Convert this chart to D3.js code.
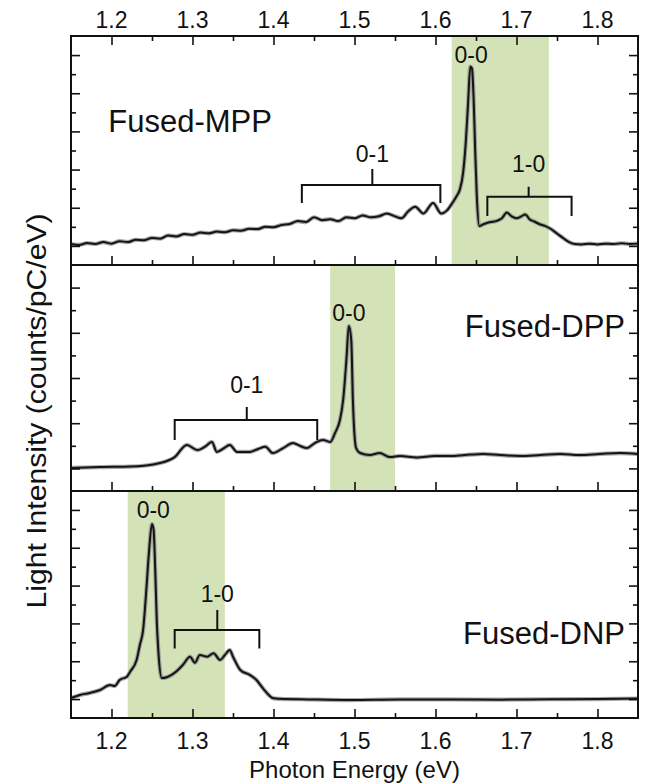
<!DOCTYPE html>
<html>
<head>
<meta charset="utf-8">
<script src="https://cdn.jsdelivr.net/npm/d3@7"></script>
<style>
  html, body { margin: 0; padding: 0; background: #fff; }
  svg { display: block; }
  text { font-family: "Liberation Sans", Arial, Helvetica, sans-serif; fill: #111; }
</style>
</head>
<body>
<svg id="chart" width="645" height="784"></svg>
<script>
// ---------------- DATA ----------------
const energyTicks = [1.2, 1.3, 1.4, 1.5, 1.6, 1.7, 1.8];
const energyDomain = [1.15, 1.85];

const panelNames = ["Fused-MPP", "Fused-DPP", "Fused-DNP"];
const panelYMax = [12, 10, 12];            // arbitrary units (counts/pC/eV)
const greenBands = [[1.62, 1.74], [1.47, 1.55], [1.22, 1.34]];

const mppE = [1.150,1.160,1.170,1.180,1.190,1.200,1.210,1.220,1.230,1.240,1.250,1.260,1.270,1.280,1.290,1.300,1.310,1.320,1.330,1.340,1.350,1.360,1.370,1.380,1.390,1.400,1.410,1.420,1.430,1.440,1.450,1.460,1.470,1.480,1.490,1.500,1.510,1.520,1.530,1.540,1.550,1.558,1.566,1.575,1.585,1.597,1.607,1.614,1.620,1.626,1.630,1.634,1.637,1.640,1.643,1.645,1.647,1.649,1.651,1.654,1.660,1.668,1.675,1.682,1.688,1.694,1.700,1.706,1.711,1.716,1.722,1.728,1.735,1.742,1.750,1.758,1.765,1.772,1.780,1.790,1.800,1.810,1.820,1.830,1.840,1.850];
const mppI = [1.10,1.05,1.15,1.10,1.20,1.12,1.25,1.20,1.32,1.30,1.42,1.38,1.55,1.50,1.62,1.58,1.70,1.66,1.75,1.72,1.82,1.80,1.90,1.88,2.00,1.98,2.10,2.15,2.30,2.25,2.50,2.35,2.40,2.30,2.50,2.45,2.60,2.50,2.55,2.70,2.55,2.45,2.80,3.05,2.70,3.25,2.70,2.85,3.20,3.60,3.95,4.80,6.20,8.30,10.40,10.30,8.80,6.00,3.60,2.05,2.15,2.25,2.30,2.45,2.75,2.55,2.45,2.55,2.65,2.40,2.28,2.15,2.05,1.90,1.65,1.40,1.20,1.10,1.08,1.12,1.08,1.12,1.10,1.14,1.10,1.12];

const dppE = [1.150,1.186,1.223,1.260,1.278,1.293,1.306,1.315,1.324,1.330,1.339,1.346,1.355,1.371,1.381,1.390,1.399,1.412,1.424,1.433,1.441,1.451,1.461,1.470,1.476,1.482,1.486,1.490,1.493,1.496,1.498,1.502,1.507,1.519,1.531,1.544,1.556,1.577,1.599,1.618,1.636,1.659,1.680,1.704,1.729,1.754,1.778,1.803,1.828,1.850];
const dppI = [1.02,1.06,1.08,1.24,1.50,2.04,1.81,1.95,2.17,1.73,1.90,2.04,1.73,1.73,1.86,1.96,1.68,1.90,2.12,1.99,1.90,2.12,2.26,2.17,2.57,3.14,4.03,5.80,7.30,6.68,4.03,1.90,1.68,1.59,1.68,1.50,1.55,1.48,1.55,1.55,1.59,1.64,1.59,1.55,1.59,1.64,1.59,1.64,1.68,1.64];

const dnpE = [1.150,1.161,1.173,1.186,1.198,1.204,1.210,1.219,1.223,1.231,1.235,1.239,1.243,1.246,1.250,1.252,1.254,1.256,1.258,1.262,1.269,1.276,1.282,1.288,1.297,1.303,1.309,1.318,1.326,1.334,1.340,1.346,1.350,1.359,1.371,1.379,1.387,1.400,1.414,1.433,1.494,1.556,1.618,1.680,1.740,1.800,1.850];
const dnpI = [1.06,1.22,1.32,1.48,1.74,1.69,2.01,2.18,2.45,3.07,3.86,4.65,6.77,8.62,10.25,9.94,7.82,5.02,3.44,2.11,2.17,2.33,2.54,2.80,3.24,2.92,3.33,3.24,3.42,3.07,3.33,3.59,3.24,2.54,2.27,2.01,1.57,1.04,1.00,0.99,0.95,0.98,0.98,0.97,0.99,1.00,1.03];

// annotations (data units): peak labels and brackets
const peakLabels = [
  [{text: "0-0", e: 1.644, v: 10.57}],
  [{text: "0-0", e: 1.493, v: 7.52}],
  [{text: "0-0", e: 1.2516, v: 10.55}]
];
const brackets = [
  [{text: "0-1", e0: 1.435, e1: 1.606, ec: 1.522, vh: 4.19, vEnd: 3.25, vTop: 5.03, vText: 5.4},
   {text: "1-0", e0: 1.664, e1: 1.768, ec: 1.715, vh: 3.58, vEnd: 2.57, vTop: 4.10, vText: 4.89}],
  [{text: "0-1", e0: 1.278, e1: 1.454, ec: 1.367, vh: 3.14, vEnd: 2.26, vTop: 3.72, vText: 4.34}],
  [{text: "1-0", e0: 1.278, e1: 1.3825, ec: 1.3306, vh: 4.65, vEnd: 3.68, vTop: 5.71, vText: 6.15}]
];

// ---------------- LAYOUT ----------------
const svg = d3.select("#chart");
const left = 71, right = 638;
const panelTops = [36, 265, 491];
const panelBottoms = [265, 491, 718];
const nameLabelPos = [
  {anchor: "start", e: 1.196, v: 6.95},
  {anchor: "end", e: 1.834, v: 6.8},
  {anchor: "end", e: 1.834, v: 3.9}
];

const x = d3.scaleLinear().domain(energyDomain).range([left, right]);
const majorTicks = energyTicks;
const minorTicks = d3.range(1.15, 1.851, 0.1).map(d => +d.toFixed(2)).filter(d => d > 1.151 && d < 1.849);

const green = "#d4e3b7";
const datasets = [[mppE, mppI], [dppE, dppI], [dnpE, dnpI]];

datasets.forEach((ds, i) => {
  const top = panelTops[i], bottom = panelBottoms[i];
  const y = d3.scaleLinear().domain([0, panelYMax[i]]).range([bottom, top]);
  const g = svg.append("g");

  // green band
  g.append("rect")
    .attr("x", x(greenBands[i][0]))
    .attr("y", top)
    .attr("width", x(greenBands[i][1]) - x(greenBands[i][0]))
    .attr("height", bottom - top)
    .attr("fill", green);

  const pts = ds[0].map((e, k) => [e, ds[1][k]]);
  const line = d3.line().x(d => x(d[0])).y(d => y(d[1])).curve(d3.curveMonotoneX);

  // gray raw-data halo
  g.append("path").datum(pts).attr("d", line)
    .attr("fill", "none").attr("stroke", "#8a8a8a").attr("stroke-width", 4.2)
    .attr("stroke-linejoin", "round").attr("opacity", 0.75);
  // smoothed black line
  g.append("path").datum(pts).attr("d", line)
    .attr("fill", "none").attr("stroke", "#141414").attr("stroke-width", 2)
    .attr("stroke-linejoin", "round");

  // y ticks (left, inward) alternating long/short, and right side
  const yt = d3.range(1, panelYMax[i]);
  g.append("g").attr("transform", `translate(${left},0)`)
    .call(d3.axisRight(y).tickValues(yt).tickSize(1).tickFormat(""))
    .call(a => a.select(".domain").remove())
    .call(a => a.selectAll(".tick line").attr("x2", d => d % 2 === 1 ? 9 : 5).attr("stroke", "#111").attr("stroke-width", 1.6));
  g.append("g").attr("transform", `translate(${right},0)`)
    .call(d3.axisLeft(y).tickValues(yt).tickSize(1).tickFormat(""))
    .call(a => a.select(".domain").remove())
    .call(a => a.selectAll(".tick line").attr("x2", d => d % 2 === 1 ? -9 : -5).attr("stroke", "#111").attr("stroke-width", 1.6));

  // bottom ticks (inward, upward)
  g.append("g").attr("transform", `translate(0,${bottom})`)
    .call(d3.axisTop(x).tickValues(majorTicks).tickSize(9).tickFormat(""))
    .call(a => a.select(".domain").remove())
    .call(a => a.selectAll(".tick line").attr("stroke", "#111").attr("stroke-width", 1.6));
  g.append("g").attr("transform", `translate(0,${bottom})`)
    .call(d3.axisTop(x).tickValues(minorTicks).tickSize(5).tickFormat(""))
    .call(a => a.select(".domain").remove())
    .call(a => a.selectAll(".tick line").attr("stroke", "#111").attr("stroke-width", 1.6));

  if (i === 0) {
    // top axis ticks (inward, downward) with labels above
    g.append("g").attr("transform", `translate(0,${top})`)
      .call(d3.axisBottom(x).tickValues(majorTicks).tickSize(9).tickFormat(""))
      .call(a => a.select(".domain").remove())
      .call(a => a.selectAll(".tick line").attr("stroke", "#111").attr("stroke-width", 1.6));
    g.append("g").attr("transform", `translate(0,${top})`)
      .call(d3.axisBottom(x).tickValues(minorTicks).tickSize(5).tickFormat(""))
      .call(a => a.select(".domain").remove())
      .call(a => a.selectAll(".tick line").attr("stroke", "#111").attr("stroke-width", 1.6));
    g.selectAll(".toplab").data(energyTicks).join("text")
      .attr("x", d => x(d)).attr("y", top - 8)
      .attr("text-anchor", "middle").attr("font-size", 23)
      .text(d => d3.format(".1f")(d));
  }
  if (i === 2) {
    g.selectAll(".botlab").data(energyTicks).join("text")
      .attr("x", d => x(d)).attr("y", bottom + 31)
      .attr("text-anchor", "middle").attr("font-size", 23)
      .text(d => d3.format(".1f")(d));
  }

  // frame
  g.append("rect").attr("x", left).attr("y", top)
    .attr("width", right - left).attr("height", bottom - top)
    .attr("fill", "none").attr("stroke", "#111").attr("stroke-width", 2);

  // peak labels
  peakLabels[i].forEach(p => {
    g.append("text").attr("x", x(p.e)).attr("y", y(p.v))
      .attr("text-anchor", "middle").attr("font-size", 23).text(p.text);
  });

  // brackets
  brackets[i].forEach(b => {
    const path = d3.path();
    path.moveTo(x(b.e0), y(b.vEnd));
    path.lineTo(x(b.e0), y(b.vh));
    path.lineTo(x(b.e1), y(b.vh));
    path.lineTo(x(b.e1), y(b.vEnd));
    path.moveTo(x(b.ec), y(b.vh));
    path.lineTo(x(b.ec), y(b.vTop));
    g.append("path").attr("d", path.toString())
      .attr("fill", "none").attr("stroke", "#111").attr("stroke-width", 2);
    g.append("text").attr("x", x(b.ec)).attr("y", y(b.vText))
      .attr("text-anchor", "middle").attr("font-size", 23).text(b.text);
  });

  // panel name
  const np = nameLabelPos[i];
  g.append("text").attr("x", x(np.e)).attr("y", y(np.v))
    .attr("text-anchor", np.anchor).attr("font-size", 31).text(panelNames[i]);
});

// axis titles
svg.append("text").attr("x", (left + right) / 2).attr("y", 778)
  .attr("text-anchor", "middle").attr("font-size", 24)
  .text("Photon Energy (eV)");
svg.append("text")
  .attr("transform", `translate(46,411) rotate(-90)`)
  .attr("text-anchor", "middle").attr("font-size", 27)
  .attr("textLength", 395).attr("lengthAdjust", "spacingAndGlyphs")
  .text("Light Intensity (counts/pC/eV)");
</script>
</body>
</html>
